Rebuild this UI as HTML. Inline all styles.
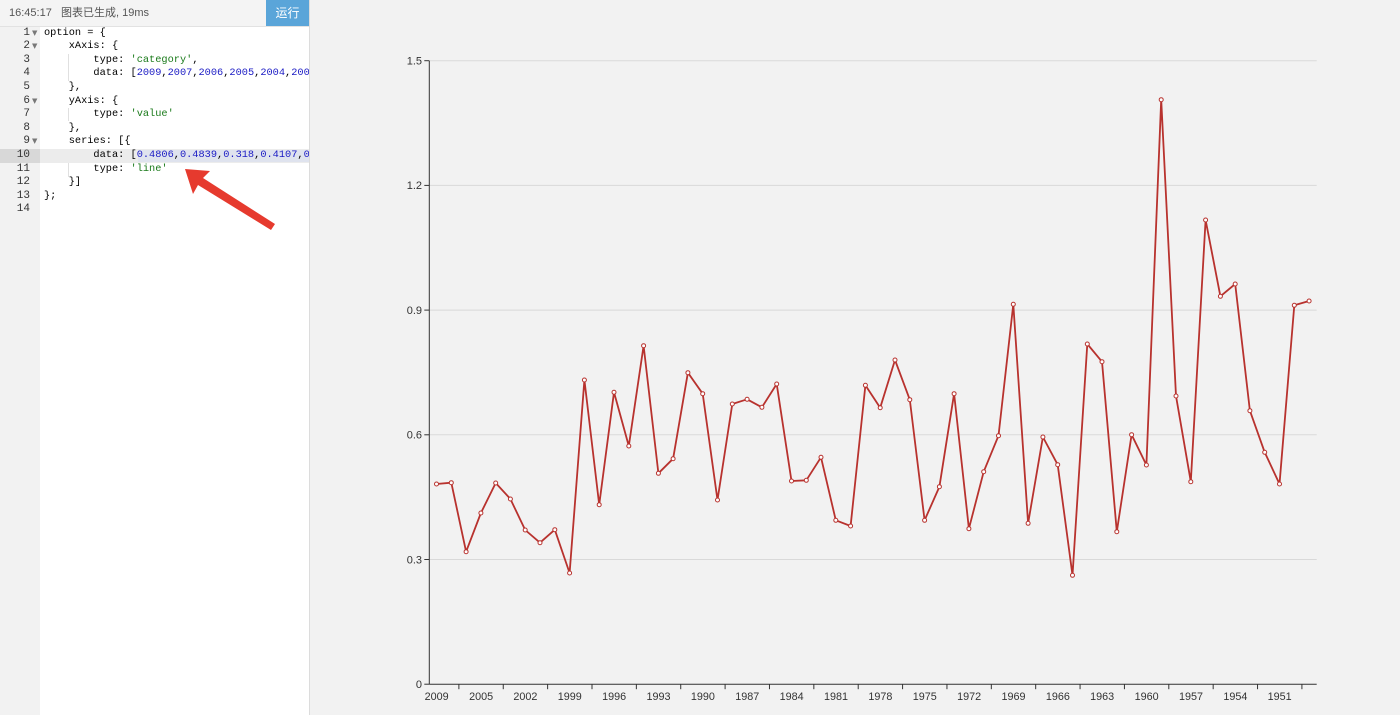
<!DOCTYPE html>
<html><head><meta charset="utf-8">
<style>
html,body{margin:0;padding:0;width:1400px;height:715px;overflow:hidden;background:#f2f2f2;}
#editor{position:absolute;left:0;top:0;width:309px;height:715px;background:#fff;border-right:1px solid #dcdcdc;}
#hdr{position:absolute;left:0;top:0;width:309px;height:26px;background:#f4f4f4;border-bottom:1px solid #e2e2e2;font:11px "Liberation Sans","Noto Sans CJK SC",sans-serif;color:#555;line-height:26px;}
#hdr .t{position:absolute;left:9px;top:0;white-space:pre;}
#btn{position:absolute;left:266px;top:0;width:43px;height:26px;background:#5aa5d9;color:#fff;font:12px "Liberation Sans","Noto Sans CJK SC",sans-serif;text-align:center;line-height:26px;}
#gutter{position:absolute;left:0;top:27px;width:40px;height:688px;background:#f2f2f2;}
.ln{position:absolute;left:0;width:30px;text-align:right;font:11px "Liberation Mono",monospace;color:#333;height:13.6px;line-height:13.6px;}
.fold{position:absolute;left:32px;font:7px "DejaVu Sans",sans-serif;color:#777;height:13.6px;line-height:13.6px;}
.code{position:absolute;left:44px;white-space:pre;font:10.3px "Liberation Mono",monospace;color:#000;height:13.6px;line-height:13.6px;}
.s{color:#1a7a1a}.n{color:#1b1bc4}
#clip{position:absolute;left:0;top:0;width:309px;height:715px;overflow:hidden;}
</style></head><body>
<div id="editor">
<div id="clip">
<div id="gutter"></div>
<div style="position:absolute;left:0;top:149px;width:40px;height:14px;background:#d8d8d8"></div>
<div style="position:absolute;left:40px;top:149px;width:269px;height:14px;background:#ececec"></div>
<div style="position:absolute;left:138px;top:150px;width:171px;height:12px;background:#dfe3ee"></div>
<div style="position:absolute;left:68px;top:54px;width:1px;height:27px;background:#e0e0e0"></div>
<div style="position:absolute;left:68px;top:108px;width:1px;height:13px;background:#e0e0e0"></div>
<div style="position:absolute;left:68px;top:163px;width:1px;height:14px;background:#e0e0e0"></div>
<div class="ln" style="top:26.5px">1</div><div class="fold" style="top:26.5px">▼</div>
<div class="ln" style="top:40.1px">2</div><div class="fold" style="top:40.1px">▼</div>
<div class="ln" style="top:53.7px">3</div>
<div class="ln" style="top:67.3px">4</div>
<div class="ln" style="top:80.9px">5</div>
<div class="ln" style="top:94.5px">6</div><div class="fold" style="top:94.5px">▼</div>
<div class="ln" style="top:108.1px">7</div>
<div class="ln" style="top:121.7px">8</div>
<div class="ln" style="top:135.3px">9</div><div class="fold" style="top:135.3px">▼</div>
<div class="ln" style="top:148.9px">10</div>
<div class="ln" style="top:162.5px">11</div>
<div class="ln" style="top:176.1px">12</div>
<div class="ln" style="top:189.7px">13</div>
<div class="ln" style="top:203.3px">14</div>
<div class="code" style="top:26.5px">option = {</div>
<div class="code" style="top:40.1px">    xAxis: {</div>
<div class="code" style="top:53.7px">        type: <span class="s">'category'</span>,</div>
<div class="code" style="top:67.3px">        data: [<span class="n">2009</span>,<span class="n">2007</span>,<span class="n">2006</span>,<span class="n">2005</span>,<span class="n">2004</span>,<span class="n">2003</span>,<span class="n">2002</span>]</div>
<div class="code" style="top:80.9px">    },</div>
<div class="code" style="top:94.5px">    yAxis: {</div>
<div class="code" style="top:108.1px">        type: <span class="s">'value'</span></div>
<div class="code" style="top:121.7px">    },</div>
<div class="code" style="top:135.3px">    series: [{</div>
<div class="code" style="top:148.9px">        data: [<span class="n">0.4806</span>,<span class="n">0.4839</span>,<span class="n">0.318</span>,<span class="n">0.4107</span>,<span class="n">0.4831</span>]</div>
<div class="code" style="top:162.5px">        type: <span class="s">'line'</span></div>
<div class="code" style="top:176.1px">    }]</div>
<div class="code" style="top:189.7px">};</div>
</div>
<div id="hdr"><span class="t">16:45:17   图表已生成, 19ms</span></div>
<div id="btn">运行</div>
</div>

<svg style="position:absolute;left:0;top:0" width="1400" height="715" xmlns="http://www.w3.org/2000/svg">
<g stroke="#d9d9d9" stroke-width="1">
<line x1="429.3" y1="60.7" x2="1316.7" y2="60.7"/>
<line x1="429.3" y1="185.4" x2="1316.7" y2="185.4"/>
<line x1="429.3" y1="310.1" x2="1316.7" y2="310.1"/>
<line x1="429.3" y1="434.8" x2="1316.7" y2="434.8"/>
<line x1="429.3" y1="559.5" x2="1316.7" y2="559.5"/>
</g>
<g stroke="#333" stroke-width="1">
<line x1="429.3" y1="60.7" x2="429.3" y2="684.2"/>
<line x1="424.3" y1="60.7" x2="429.3" y2="60.7"/>
<line x1="424.3" y1="185.4" x2="429.3" y2="185.4"/>
<line x1="424.3" y1="310.1" x2="429.3" y2="310.1"/>
<line x1="424.3" y1="434.8" x2="429.3" y2="434.8"/>
<line x1="424.3" y1="559.5" x2="429.3" y2="559.5"/>
<line x1="424.3" y1="684.2" x2="429.3" y2="684.2"/>
<line x1="429.3" y1="684.2" x2="1316.7" y2="684.2"/>
</g>
<g id="xt" stroke="#333" stroke-width="1"></g>
<g font-family="Liberation Sans, sans-serif" font-size="11" fill="#333" text-anchor="end">
<text x="422" y="64.5">1.5</text>
<text x="422" y="189.2">1.2</text>
<text x="422" y="313.9">0.9</text>
<text x="422" y="438.6">0.6</text>
<text x="422" y="563.3">0.3</text>
<text x="422" y="688">0</text>
</g>
<g id="xl" font-family="Liberation Sans, sans-serif" font-size="10.8" fill="#333" text-anchor="middle"></g>
<polyline id="ln" fill="none" stroke="#b8322e" stroke-width="1.8" stroke-linejoin="bevel"></polyline>
<g id="pts" fill="#fff" stroke="#b8322e" stroke-width="1"></g>
<polygon points="185,169 210,171 203,178 275,224 271,230 198,185 193,194" fill="#e63a2e"/>
</svg>
<script>
var ys=[484,482.7,551.7,513,483,499,530,542.7,529.7,573,380,504.7,392.3,446,345.7,473.3,458.7,372.7,393.7,500,
404,399.3,407.3,384,481,480.3,457.3,520.3,526,385.3,407.7,360,399.7,520.3,486.7,393.7,528.7,471.7,435.7,304.3,
523.3,437,464.7,575.3,344,361.7,531.7,434.7,465,99.7,396,481.7,220,296.3,284,410.7,452.3,484,305.3,301];
var ns="http://www.w3.org/2000/svg",pts=[],g=document.getElementById('pts');
for(var i=0;i<ys.length;i++){var x=436.5+14.79*i;pts.push(x.toFixed(1)+","+ys[i]);
var c=document.createElementNS(ns,'circle');c.setAttribute('cx',x.toFixed(1));c.setAttribute('cy',ys[i]);c.setAttribute('r','2');g.appendChild(c);}
document.getElementById('ln').setAttribute('points',pts.join(' '));
var xt=document.getElementById('xt'),xl=document.getElementById('xl');
var labs=[2009,2005,2002,1999,1996,1993,1990,1987,1984,1981,1978,1975,1972,1969,1966,1963,1960,1957,1954,1951];
for(var k=0;k<20;k++){var tx=429.3+14.79*(2+3*k);
var l=document.createElementNS(ns,'line');l.setAttribute('x1',tx);l.setAttribute('x2',tx);l.setAttribute('y1',684.2);l.setAttribute('y2',689.2);xt.appendChild(l);
var t=document.createElementNS(ns,'text');t.setAttribute('x',(429.3+14.79*(3*k+0.5)).toFixed(1));t.setAttribute('y','700');t.textContent=labs[k];xl.appendChild(t);}
</script>
</body></html>
